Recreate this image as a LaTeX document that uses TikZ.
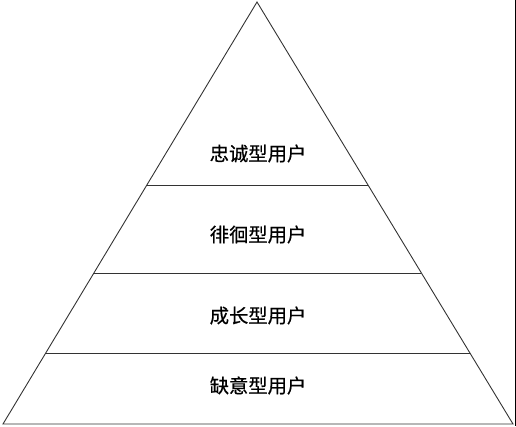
\documentclass[tikz,border=0pt]{standalone}
\usepackage{fontspec}
\setmainfont{Noto Sans CJK SC}
\newfontfamily\cjk{Noto Sans CJK SC}[FakeBold=0.6]
\usetikzlibrary{calc}
\begin{document}
\begin{tikzpicture}[
    x=1pt, y=-1pt,
    edge/.style={draw, line width=0.9pt, black!80},
    layer/.style={font=\cjk\fontsize{19.3}{19.3}\selectfont, text=black, inner sep=0pt}
  ]
    \useasboundingbox (0,0) rectangle (516,426);
    \coordinate (top) at (257,2);
    \coordinate (left) at (3,424);
    \coordinate (right) at (513,424);

    \coordinate (l1) at ($(top)!0.4336!(left)$);
    \coordinate (r1) at ($(top)!0.4336!(right)$);
    \coordinate (l2) at ($(top)!0.6422!(left)$);
    \coordinate (r2) at ($(top)!0.6422!(right)$);
    \coordinate (l3) at ($(top)!0.8318!(left)$);
    \coordinate (r3) at ($(top)!0.8318!(right)$);

    \path [edge] (top) -- (left) -- (right) -- cycle;
    \path [edge] (l1) -- (r1);
    \path [edge] (l2) -- (r2);
    \path [edge] (l3) -- (r3);
    \path [edge, line width=1.2pt, black] (515.4,0) -- (515.4,426);

    \node [layer] (zhongcheng) at (258,153.5) {忠诚型用户};
    \node [layer] (paihuai) at (258,234.5) {徘徊型用户};
    \node [layer] (chengzhang) at (258,315.5) {成长型用户};
    \node [layer] (queyi) at (258,385.5) {缺意型用户};
  \end{tikzpicture}
\end{document}
